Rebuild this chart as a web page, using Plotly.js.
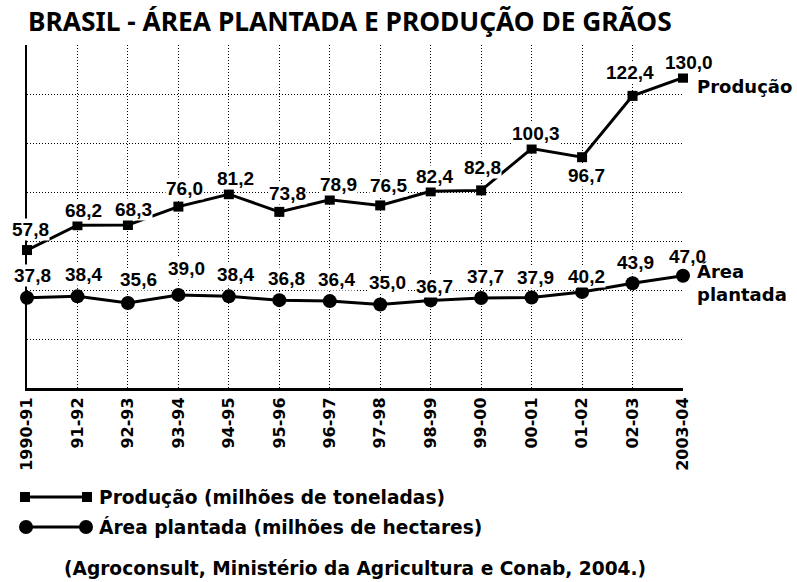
<!DOCTYPE html>
<html>
<head>
<meta charset="utf-8">
<script src="https://cdn.plot.ly/plotly-3.0.1.min.js"></script>
<style>
html,body{margin:0;padding:0;background:#fff;}
#chart{width:797px;height:582px;}
#chart text[style*="Noto Sans"]{font-stretch:condensed;}
</style>
</head>
<body>
<div id="chart"></div>
<script>
// ---- data ----
const categories = ['1990-91','91-92','92-93','93-94','94-95','95-96','96-97','97-98','98-99','99-00','00-01','01-02','02-03','2003-04'];
const producao = [57.8,68.2,68.3,76.0,81.2,73.8,78.9,76.5,82.4,82.8,100.3,96.7,122.4,130.0];
const area = [37.8,38.4,35.6,39.0,38.4,36.8,36.4,35.0,36.7,37.7,37.9,40.2,43.9,47.0];
const titleText = 'BRASIL - ÁREA PLANTADA E PRODUÇÃO DE GRÃOS';
const legendProd = 'Produção (milhões de toneladas)';
const legendArea = 'Área plantada (milhões de hectares)';
const sourceText = '(Agroconsult, Ministério da Agricultura e Conab, 2004.)';

// ---- style / label offsets (pixels) ----
const prodShift = [[3,21],[6,15],[6,15],[6,18],[7,16],[8,18],[9,15],[8,20],[4,15],[1,23],[4,15],[4,-18],[-3,23],[6,15]];
const areaShift = [[5,22],[6,22],[11,24],[8,26],[7,22],[7,22],[7,22],[7,22],[4,14],[4,22],[4,20],[4,16],[3,21],[4,19]];

const W = 797, H = 582;
const M = {l:27, r:114, t:45, b:194};
const PW = W - M.l - M.r, PH = H - M.t - M.b;
const px = x => (x - M.l) / PW;
const py = y => (H - M.b - y) / PH;
const fmt = v => v.toFixed(1).replace('.', ',');

const labelFont = {family:'Liberation Sans, Arial, sans-serif', size:19, color:'#000', weight:'bold'};
const boldSans = 'DejaVu Sans, Verdana, sans-serif';

const traces = [
  {x:categories, y:producao, type:'scatter', mode:'lines+markers', cliponaxis:false,
   line:{color:'#000', width:3}, marker:{symbol:'square', size:10, color:'#000'}, hoverinfo:'skip'},
  {x:categories, y:area, type:'scatter', mode:'lines+markers', cliponaxis:false,
   line:{color:'#000', width:3}, marker:{symbol:'circle', size:14, color:'#000'}, hoverinfo:'skip'}
];

const annotations = [];
producao.forEach((v,i) => annotations.push({x:categories[i], y:v, xref:'x', yref:'y', text:fmt(v), showarrow:false,
  xshift:prodShift[i][0], yshift:prodShift[i][1], font:labelFont, bgcolor:'#fff', borderpad:0}));
area.forEach((v,i) => annotations.push({x:categories[i], y:v, xref:'x', yref:'y', text:fmt(v), showarrow:false,
  xshift:areaShift[i][0], yshift:areaShift[i][1], font:labelFont, bgcolor:'#fff', borderpad:0}));
const last = categories.length - 1;
const sideFont = {family:boldSans, size:18, color:'#000', weight:'bold'};
annotations.push({x:categories[last], y:producao[last], xref:'x', yref:'y', text:'Produção', showarrow:false,
  xanchor:'left', yanchor:'middle', xshift:12, yshift:-9, font:sideFont});
annotations.push({x:categories[last], y:area[last], xref:'x', yref:'y', text:'Área<br>plantada', showarrow:false,
  xanchor:'left', yanchor:'middle', align:'left', xshift:12, yshift:-7, font:sideFont});
const legFont = {family:boldSans, size:18.6, color:'#000', weight:'bold'};
annotations.push({x:px(97), y:py(497), xref:'paper', yref:'paper', text:legendProd, showarrow:false, xanchor:'left', yanchor:'middle', font:legFont});
annotations.push({x:px(97), y:py(527), xref:'paper', yref:'paper', text:legendArea, showarrow:false, xanchor:'left', yanchor:'middle', font:legFont});
annotations.push({x:px(62), y:py(568), xref:'paper', yref:'paper', text:sourceText, showarrow:false, xanchor:'left', yanchor:'middle', font:legFont});

const shapes = [
  {type:'line', xref:'paper', yref:'paper', x0:px(24), x1:px(88), y0:py(497), y1:py(497), line:{color:'#000', width:3}},
  {type:'rect', xref:'paper', yref:'paper', x0:px(20), x1:px(30), y0:py(492), y1:py(502), fillcolor:'#000', line:{width:0}},
  {type:'rect', xref:'paper', yref:'paper', x0:px(82), x1:px(92), y0:py(492), y1:py(502), fillcolor:'#000', line:{width:0}},
  {type:'line', xref:'paper', yref:'paper', x0:px(26), x1:px(86), y0:py(527), y1:py(527), line:{color:'#000', width:3}},
  {type:'circle', xref:'paper', yref:'paper', x0:px(19), x1:px(33), y0:py(520), y1:py(534), fillcolor:'#000', line:{width:0}},
  {type:'circle', xref:'paper', yref:'paper', x0:px(79), x1:px(93), y0:py(520), y1:py(534), fillcolor:'#000', line:{width:0}}
];

const yTop = 143.71;
const titleSize = 26;
const layout = {
  width:W, height:H, margin:M, paper_bgcolor:'#fff', plot_bgcolor:'#fff', showlegend:false,
  title:{text:titleText, x:28/W, xanchor:'left', xref:'container', y:1-22/H, yanchor:'middle', yref:'container',
    font:{family:'Noto Sans, sans-serif', size:titleSize, color:'#000', weight:'bold'}},
  xaxis:{type:'category', range:[0, last], showline:true, linecolor:'#000', linewidth:3,
    showgrid:true, gridcolor:'#000', gridwidth:1, griddash:'1px,2px', zeroline:false,
    ticks:'', tickangle:-90, tickfont:{family:boldSans, size:16, color:'#000', weight:'bold'}, fixedrange:true},
  yaxis:{range:[0, yTop], tick0:0, dtick:yTop/7, showline:true, linecolor:'#000', linewidth:2,
    showgrid:true, gridcolor:'#000', gridwidth:1, griddash:'1px,2px', zeroline:false,
    showticklabels:false, ticks:'', fixedrange:true},
  annotations:annotations, shapes:shapes
};
Plotly.newPlot('chart', traces, layout, {displayModeBar:false, staticPlot:true}).then(gd => {
  // fit the title to the reference width (28px .. 672px)
  const t = gd.querySelector('.gtitle');
  if (t) {
    const w = t.getBBox().width;
    if (w > 0) return Plotly.relayout(gd, {'title.font.size': titleSize * 644 / w});
  }
});
</script>
</body>
</html>
